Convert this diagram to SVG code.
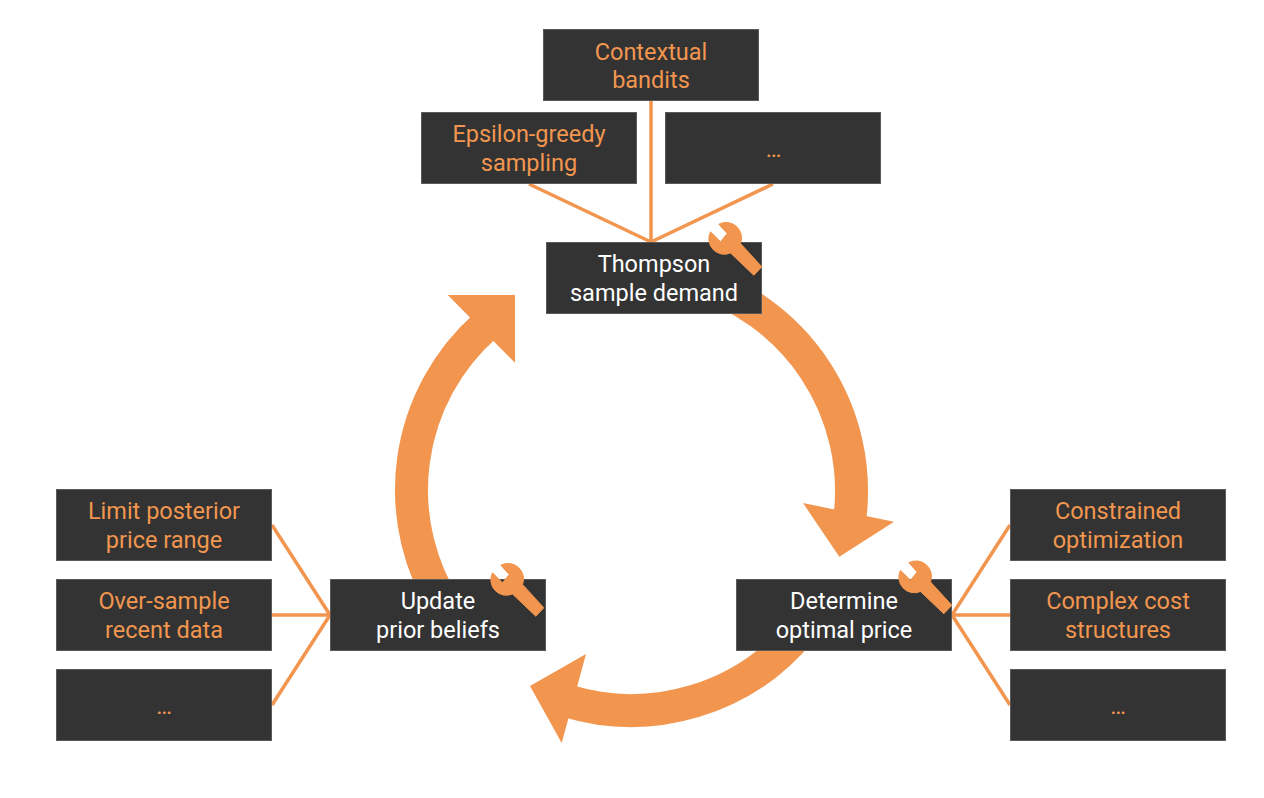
<svg xmlns="http://www.w3.org/2000/svg" width="1264" height="798" viewBox="0 0 1264 798">
<style>
.box{fill:#333333;stroke:#5a5a5a;stroke-width:1}
.t{font-family:Roboto,"Liberation Sans",sans-serif;font-size:23.5px;text-anchor:middle}
.o{fill:#f2964f}
.w{fill:#ffffff}
.arc{fill:none;stroke:#f2964f;stroke-width:33}
.head{fill:#f2964f}
.link{fill:none;stroke:#f2964f;stroke-width:3.5}
.wrench{fill:#f2964f;stroke:#f2964f;stroke-width:1;stroke-linejoin:round}
</style>
<defs>
<path id="wr" class="wrench" d="M-15,-6.7L-5,3.3L1.7,-5L-6.7,-14.3A15.5 15.5 0 0 1 15,5L36.3,28.3L28.3,36.7L5,14.5A15.5 15.5 0 0 1 -15,-6.7Z"/>
</defs>
<rect width="1264" height="798" fill="#ffffff"/>
<g id="connectors">
<path class="arc" d="M692.500,280A219.500 219.500 0 0 1 850,517"/>
<polygon class="head" points="803,503 894,521.700 839.300,556.700"/>
<path class="arc" d="M801,630A219.500 219.500 0 0 1 567,700.900"/>
<polygon class="head" points="586,654 530,686 561.700,743"/>
<path class="arc" d="M447.200,610A219.500 219.500 0 0 1 485.500,325.600"/>
<polygon class="head" points="447.700,295 515,295 515,362.700"/>
<path class="link" d="M529,184L651,242M651,101L651,242M773,184L651,242"/>
<path class="link" d="M272,525L330,615M272,615L330,615M272,705L330,615"/>
<path class="link" d="M952,615L1010,525M952,615L1010,615M952,615L1010,705"/>
</g>
<g id="contextual"><rect class="box" x="543.500" y="29.500" width="215" height="71"/><text class="t o" x="651" y="60">Contextual</text><text class="t o" x="651" y="88">bandits</text></g>
<g id="epsilon"><rect class="box" x="421.500" y="112.500" width="215" height="71"/><text class="t o" x="529" y="142">Epsilon-greedy</text><text class="t o" x="529" y="171">sampling</text></g>
<g id="more-top"><rect class="box" x="665.500" y="112.500" width="215" height="71"/><text class="t o" x="773.500" y="157">…</text></g>
<g id="thompson"><rect class="box" x="546.500" y="242.500" width="215" height="71"/><text class="t w" x="654" y="272">Thompson</text><text class="t w" x="654" y="301">sample demand</text><use href="#wr" x="725.500" y="238.500"/></g>
<g id="limit"><rect class="box" x="56.500" y="489.500" width="215" height="71"/><text class="t o" x="164" y="519">Limit posterior</text><text class="t o" x="164" y="548">price range</text></g>
<g id="oversample"><rect class="box" x="56.500" y="579.500" width="215" height="71"/><text class="t o" x="164" y="609">Over-sample</text><text class="t o" x="164" y="638">recent data</text></g>
<g id="more-left"><rect class="box" x="56.500" y="669.500" width="215" height="71"/><text class="t o" x="164" y="714">…</text></g>
<g id="update"><rect class="box" x="330.500" y="579.500" width="215" height="71"/><text class="t w" x="438" y="609">Update</text><text class="t w" x="438" y="638">prior beliefs</text><use href="#wr" x="507.500" y="579.500"/></g>
<g id="determine"><rect class="box" x="736.500" y="579.500" width="215" height="71"/><text class="t w" x="844" y="609">Determine</text><text class="t w" x="844" y="638">optimal price</text><use href="#wr" x="915.500" y="577"/></g>
<g id="constrained"><rect class="box" x="1010.500" y="489.500" width="215" height="71"/><text class="t o" x="1118" y="519">Constrained</text><text class="t o" x="1118" y="548">optimization</text></g>
<g id="complex"><rect class="box" x="1010.500" y="579.500" width="215" height="71"/><text class="t o" x="1118" y="609">Complex cost</text><text class="t o" x="1118" y="638">structures</text></g>
<g id="more-right"><rect class="box" x="1010.500" y="669.500" width="215" height="71"/><text class="t o" x="1118" y="714">…</text></g>
</svg>
